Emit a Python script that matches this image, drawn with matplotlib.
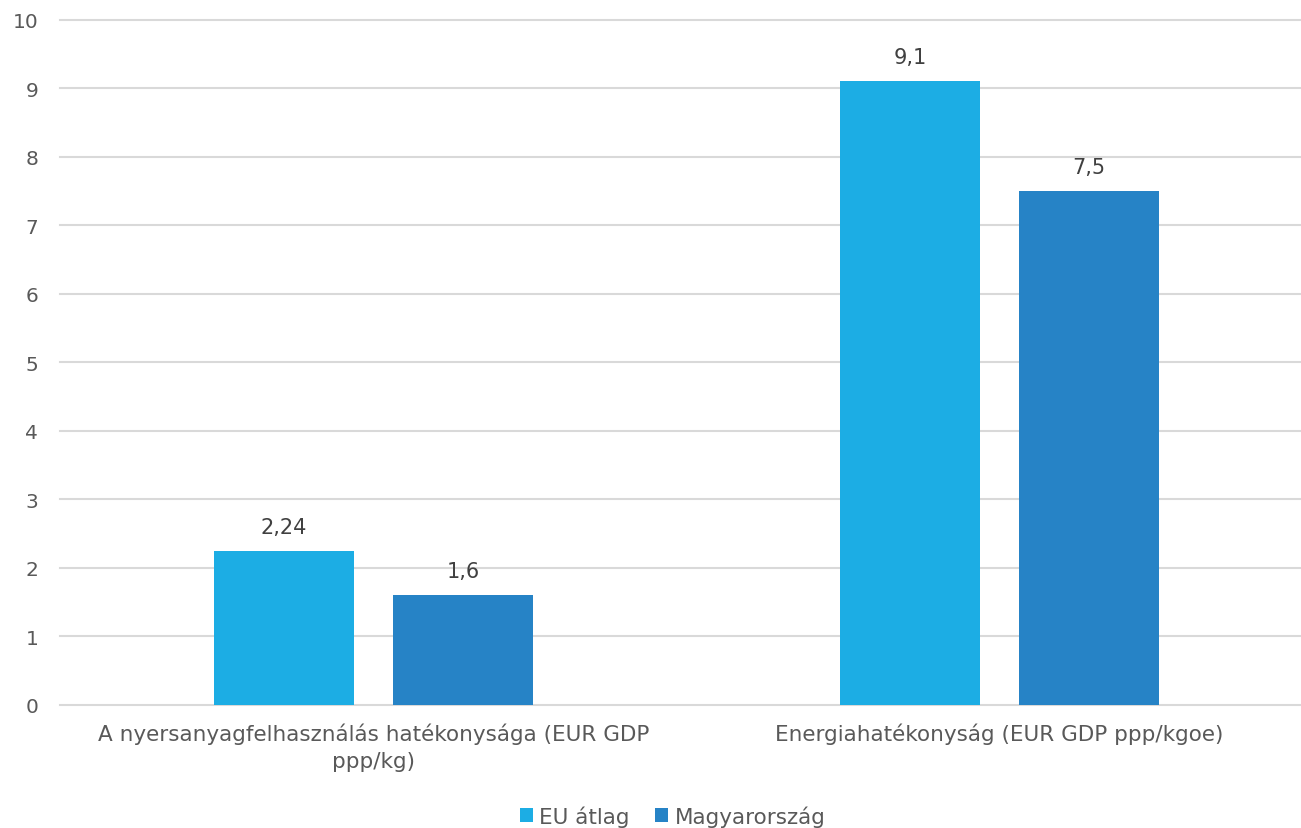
import matplotlib.pyplot as plt
import numpy as np

categories = ["A nyersanyagfelhasználás hatékonysága (EUR GDP\nppp/kg)",
              "Energiahatékonyság (EUR GDP ppp/kgoe)"]
eu_atlag = [2.24, 9.1]
magyarorszag = [1.6, 7.5]
series_names = ["EU átlag", "Magyarország"]
colors = ["#1CADE4", "#2683C6"]

plt.rcParams['font.family'] = ['DejaVu Sans']

fig = plt.figure(figsize=(13.01, 8.29), dpi=100)
ax = fig.add_axes([0.0465, 0.1487, 0.9623, 0.8263])

x = np.arange(len(categories))
w = 0.225
off = 0.143
b1 = ax.bar(x - off, eu_atlag, w, color=colors[0], label=series_names[0], zorder=3)
b2 = ax.bar(x + off, magyarorszag, w, color=colors[1], label=series_names[1], zorder=3)

for bars, vals in ((b1, eu_atlag), (b2, magyarorszag)):
    for rect, v in zip(bars, vals):
        ax.annotate(str(v).replace(".", ","), (rect.get_x() + rect.get_width() / 2, v),
                    xytext=(0, 10), textcoords="offset points", ha="center", va="bottom",
                    fontsize=15, color="#404040")

ax.set_xlim(-0.5, 1.5)
ax.set_ylim(0, 10)
ax.set_yticks(range(0, 11))
ax.yaxis.grid(True, color="#d9d9d9", linewidth=1.5, zorder=0)
for gl in ax.get_ygridlines():
    gl.set_clip_on(False)
ax.set_axisbelow(True)
for s in ax.spines.values():
    s.set_visible(False)
ax.tick_params(axis="both", length=0, labelcolor="#595959")
ax.tick_params(axis="y", pad=16, labelsize=14.5)
ax.tick_params(axis="x", pad=13, labelsize=15.5)
ax.set_xticks(x)
ax.set_xticklabels(categories, linespacing=1.4)

fig.legend(loc="center", bbox_to_anchor=(0.517, 0.0145), ncol=2, frameon=False,
           fontsize=15.5, labelcolor="#595959", handlelength=0.6, handleheight=0.6,
           handletextpad=0.3, columnspacing=1.2)

fig.savefig("out.png", dpi=100)
